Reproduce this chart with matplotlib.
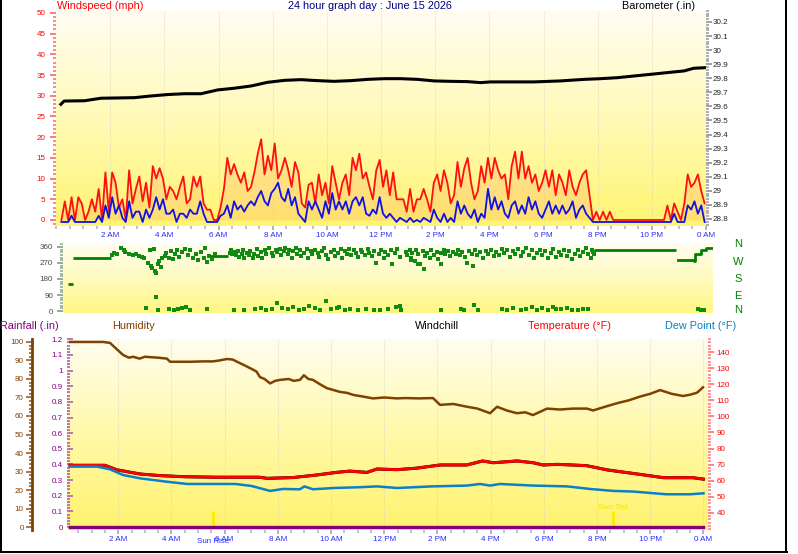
import numpy as np
import matplotlib.pyplot as plt
import matplotlib.transforms as mtransforms
from matplotlib.colors import LinearSegmentedColormap
from matplotlib.lines import Line2D
from matplotlib.ticker import MultipleLocator, FuncFormatter

plt.rcParams['font.family'] = ['Liberation Sans', 'DejaVu Sans']

#time axis labels
hour_ticks = [2, 4, 6, 8, 10, 12, 14, 16, 18, 20, 22, 24]
hour_labels = ['2 AM', '4 AM', '6 AM', '8 AM', '10 AM', '12 PM',
               '2 PM', '4 PM', '6 PM', '8 PM', '10 PM', '0 AM']

#wind (mph), one reading every 7.5 min from 00:12
wind_gust = [0, 4.5, 0, 5.5, 0, 5.5, 4, 0, 2, 5,
             2, 7.5, 0, 11.5, 2, 11.5, 9, 3, 5, 0,
             12, 4, 7.5, 10.5, 4.5, 9, 3, 13, 10, 12.5,
             10, 5, 8, 7, 5, 8, 10.5, 4, 5, 10.5,
             8, 10.5, 4, 2.5, 2.5, 0, 0, 3, 7.5, 15,
             11, 13.5, 11, 9, 11.5, 7, 8, 11.5, 16, 19.5,
             11, 15.5, 12, 18.5, 10, 12, 15, 12, 8, 14,
             11.5, 4, 3, 8.5, 9, 4, 11, 6, 9, 4,
             13, 9, 5, 9, 11, 6, 15, 12, 16, 10,
             11.5, 8, 5, 12, 14.5, 8, 12, 6, 11.5, 5,
             5,
             5, 2, 7.5, 2, 5, 5, 7.5, 5, 2, 9,
             11, 7, 12, 9, 4, 6, 14, 8, 12.5, 15,
             9, 5, 7, 13, 9, 15, 10, 15, 12, 10,
             11, 5, 13, 16.5, 10, 16.5, 10, 13, 9, 11,
             7, 9, 12, 8, 12, 6, 11, 9, 6, 12,
             8, 6, 9, 11, 12, 6, 0, 2, 0, 2,
             0, 2, 0,
             0, 0, 0, 0, 0, 0, 0, 0, 0, 0, 0, 0, 0,
             0, 0, 3.5, 0, 4, 2, 0, 4, 11, 8, 9, 11, 7, 4]
wind_speed = [0, 0, 0, 1.5, 0, 0, 0, 0, 0, 0,
              0, 1.5, 0, 4, 1, 6, 2, 4, 1, 0,
              5, 1, 2.5, 2.5, 0, 3, 1, 3, 6, 3,
              5.5, 2, 2, 3, 0, 2, 2, 1, 3, 2,
              2, 5, 2, 0, 0, 0, 0, 1.5, 2, 4,
              1, 5, 3, 4, 2.5, 4, 5, 4, 6, 7.5,
              5, 4, 7, 8, 9.5, 6, 5, 8, 4, 6,
              2, 1, 0, 5, 3, 5, 3, 1, 5, 2,
              7, 3, 5, 3, 5, 2, 5, 6, 4, 6,
              2, 1.5, 3, 2, 6, 2, 1, 2, 1, 0,
              1,
              0.5, 0, 1, 0, 0.5, 0, 1, 0.5, 0, 3,
              1, 0, 2, 0, 1, 0, 5, 2, 4, 2,
              1, 3, 0, 2, 1, 8, 3, 6, 3, 5,
              2, 1, 4, 5, 2, 4, 2, 6, 3, 5,
              2, 1, 3, 5, 2, 4, 2, 4, 2, 3,
              5, 1, 3, 4, 2, 1, 0,
              0, 0, 0, 0, 0, 0, 0, 0, 0, 0, 0, 0, 0, 0, 0, 0, 0, 0, 0, 0, 0, 0, 0,
              2, 0, 0, 0, 4, 3, 5, 2, 4, 0]

#barometer (in)
baro_t = [0.18, 0.3, 1.05, 1.66, 2.89, 3.5, 4.12, 4.73, 5.35, 5.97, 6.58, 7.2, 7.81,
          8.43, 9.04, 9.66, 10.27, 10.89, 11.5, 12.12, 12.73, 13.35, 13.96, 14.57,
          15.19, 15.68, 16.05, 16.42, 17.65, 18.63, 19.5, 20.11, 20.73, 21.34, 21.96,
          22.57, 23.19, 23.55, 23.98]
baro_v = [29.615, 29.638, 29.640, 29.658, 29.662, 29.674, 29.684, 29.690, 29.690, 29.717,
          29.729, 29.745, 29.771, 29.785, 29.790, 29.783, 29.778, 29.783, 29.792, 29.797,
          29.797, 29.792, 29.781, 29.778, 29.776, 29.769, 29.774, 29.774, 29.774, 29.781,
          29.792, 29.797, 29.804, 29.816, 29.828, 29.840, 29.852, 29.871, 29.875]

#wind direction (deg): steady runs and single readings
run_start = [0.17, 0.38, 5.40, 19.62]
run_end = [0.38, 1.77, 6.08, 22.65]
run_deg = [154, 300, 307, 345]
tail_t = [22.70, 23.25, 23.30, 23.35, 23.40, 23.55, 23.75, 24.0]
tail_v = [289, 289, 279, 322, 322, 341, 356, 356]
dir_t = [1.8, 1.9, 2.0, 2.15, 2.25, 2.3, 2.45, 2.6, 2.7, 2.8, 2.9, 3.0,
         3.15, 3.2, 3.25, 3.3, 3.35, 3.4, 3.45, 3.5, 3.55, 3.6, 3.65,
         3.75, 3.8, 3.9, 4.0, 4.05, 4.15, 4.2, 4.3, 4.4, 4.5, 4.6, 4.7, 4.8, 4.9, 5.0,
         5.1, 5.2, 5.25, 5.3, 5.4, 5.5, 5.6,
         3.07, 3.44, 3.5, 3.9, 4.1, 4.25, 4.4, 4.55, 4.7, 5.3, 6.3,
         6.15, 6.2, 6.25, 6.3, 6.4, 6.45, 6.5, 6.6, 6.65, 6.7, 6.8, 6.85, 6.9, 7.0, 7.05,
         7.15, 7.2, 7.3, 7.35, 7.45, 7.5, 7.6, 7.7, 7.75, 7.85, 7.9, 8.0, 8.05, 8.15, 8.2,
         8.3, 8.35, 8.45, 8.5, 8.6, 8.65, 8.75, 8.8, 8.9, 9.0, 9.05, 9.15, 9.2, 9.3, 9.4,
         9.45, 9.55, 9.65, 9.7, 9.8, 9.9, 10.0, 10.05, 10.15, 10.25, 10.3, 10.4, 10.5,
         10.55, 10.65, 10.75, 10.8, 10.9, 11.0, 11.05, 11.15, 11.25, 11.3, 11.4, 11.5,
         11.55, 11.65, 11.75, 11.85, 11.9, 12.0, 12.1, 12.15, 12.25, 12.35, 12.45,
         6.7, 7.1, 7.3, 7.5, 7.7, 7.9, 8.1, 8.3, 8.5, 8.7, 8.9, 9.1, 9.3, 9.5, 9.7, 9.9,
         10.1, 10.2, 10.4, 10.6, 10.9, 11.2, 11.5, 11.7, 12.0, 12.3, 12.45,
         12.65, 12.7, 12.8, 12.85, 12.9, 13.0, 13.05, 13.1, 13.2, 13.3, 13.35, 13.45,
         13.55, 13.6, 13.7, 13.8, 13.85, 13.95, 14.05, 14.1, 14.2, 14.3, 14.4, 14.5,
         14.6, 14.65, 14.75, 14.85, 14.9, 15.0, 15.1, 15.2, 15.3, 15.4, 15.5, 15.6,
         15.7, 15.8, 15.9, 16.0, 16.1, 16.2, 16.3, 16.4, 16.5, 16.6, 16.7, 16.8, 16.9,
         17.0, 17.1, 17.2, 17.3, 17.4, 17.5, 17.6, 17.7, 17.8, 17.9, 18.0, 18.1, 18.2,
         18.3, 18.4, 18.5, 18.6, 18.7, 18.8, 18.9, 19.0, 19.1, 19.2, 19.3, 19.4, 19.5,
         19.55, 19.58, 19.6,
         12.85, 13.1, 13.34, 13.96, 15.13,
         12.48, 13.96, 14.7, 14.82, 15.19, 15.31, 16.2, 16.4, 16.6, 16.9, 17.1, 17.3,
         17.5, 17.7, 17.9, 18.1, 18.2, 18.4, 18.6, 18.8, 19.0, 19.2, 19.4,
         23.45, 23.55, 23.65]
dir_v = [315, 325, 320, 355, 345, 330, 322, 315, 318, 310, 305, 298,
         270, 345, 255, 240, 350, 225, 215, 262, 280, 245, 300,
         310, 325, 300, 335, 290, 320, 345, 305, 330, 350, 315, 340, 295, 320, 285,
         330, 300, 355, 275, 310, 290, 320,
         17, 80, 8, 10, 8, 12, 15, 20, 5, 12, 5,
         325, 340, 318, 330, 312, 335, 305, 322, 345, 300, 328, 315, 338, 295, 320,
         348, 310, 332, 300, 342, 318, 352, 325, 308, 340, 330, 350, 315, 338, 355,
         322, 345, 300, 335, 352, 318, 340, 310, 328, 350, 300, 335, 318, 345, 325,
         305, 338, 352, 315, 290, 332, 345, 310, 328, 348, 300, 335, 320,
         350, 312, 340, 326, 305, 345, 330, 315, 350, 325, 308, 338,
         270, 320, 345, 300, 330, 312, 340, 262, 325, 350, 305,
         5, 10, 18, 8, 12, 45, 15, 10, 20, 8, 12, 30, 15, 5, 58, 10,
         15, 25, 8, 12, 5, 10, 8, 5, 12, 20, 30,
         330, 312, 345, 300, 325, 280, 340, 318, 262, 335, 310, 328,
         300, 342, 315, 330, 290, 325, 340, 318, 335, 308, 330, 322,
         340, 315, 332, 305, 270, 338, 320, 345, 312, 330, 300, 338,
         318, 345, 308, 332, 315, 350, 325, 340, 305, 335, 318, 348, 310,
         330, 352, 315, 340, 300, 328, 345, 312, 335, 298, 325, 348, 305,
         330, 315, 340, 308, 335, 290, 320, 345, 310, 330, 352, 318, 300,
         345, 330, 318,
         285, 266, 238, 266, 251,
         8, 5, 12, 8, 32, 5, 10, 5, 15, 8, 10, 20,
         5, 15, 8, 25, 10, 12, 18, 8, 5, 12, 10,
         12, 8, 5]

#humidity (%)
hum_t = [0.2, 1.43, 1.69, 2.18, 2.4, 2.56, 2.8, 3.0, 3.2, 3.5, 3.83, 3.95, 4.7, 5.2,
         5.56, 5.8, 6.09, 6.3, 6.47, 6.8, 7.07, 7.2, 7.33, 7.5, 7.71, 7.9, 8.08, 8.4,
         8.6, 8.83, 8.98, 9.15, 9.32, 9.6, 9.85, 10.1, 10.34, 10.6, 10.83, 11.2, 11.58,
         12.0, 12.48, 12.8, 13.3, 13.83, 14.1, 14.6, 15.11, 15.5, 15.98, 16.24, 16.6,
         16.99, 17.3, 17.59, 18.12, 18.6, 19.1, 19.62, 19.85, 20.3, 20.75, 21.2, 21.62,
         22.0, 22.37, 22.8, 23.23, 23.5, 23.76, 23.98]
hum_v = [100, 100, 99.5, 93, 91.5, 92, 91, 92, 91.8, 91.5, 91, 89.3, 89.3, 89.5,
         89.5, 90, 90.8, 90.5, 89.3, 87, 85, 84, 81, 80, 77.6, 79, 79.5, 80,
         79, 79.5, 82, 80, 79.5, 77, 75, 74, 73, 72.5, 71.4, 70.5, 69.5,
         70, 69.5, 69.7, 69.5, 69.7, 66, 66.5, 65, 64, 61.5, 65, 63,
         61.5, 62, 60.5, 64, 63.5, 64, 64, 63, 65, 66.9, 68.5, 70.5,
         72, 74, 72, 70.8, 71.5, 72.6, 75.5]

#temperature, windchill, dew point (F)
temp_t = [0.19, 1.5, 1.95, 2.82, 3.57, 4.5, 5.7, 7.3, 7.6, 8.57, 9.47, 10.2, 10.7,
          11.35, 11.73, 12.48, 13.2, 14.1, 15.1, 15.7, 16.1, 17.0, 17.6, 17.97, 18.5,
          19.6, 20.4, 21.6, 22.5, 23.6, 24.0]
temp_v = [69.6, 69.6, 66.8, 64.2, 63.2, 62.5, 62.2, 62.2, 61.5, 62, 63.6, 65.2, 66,
          65.2, 67.3, 66.9, 67.8, 69.8, 69.8, 72.3, 71.2, 72.3, 71.2, 69.8, 70.2,
          69.4, 66.7, 64, 61.9, 61.9, 61]
windchill_v = [69.6, 69.6, 66.8, 64.2, 63.2, 62.5, 62.2, 62.2, 61.5, 62, 63.6, 65.2, 66,
               65.2, 67.3, 66.9, 67.8, 69.8, 69.8, 72.3, 71.2, 72.3, 71.2, 69.8, 70.2,
               69.4, 66.7, 64, 61.9, 61.9, 61]
dew_t = [0.19, 1.2, 1.69, 2.18, 2.82, 3.83, 4.6, 6.4, 7.0, 7.71, 8.2, 8.83, 9.0, 9.32,
         10.1, 11.1, 11.73, 12.48, 13.8, 15.11, 15.6, 15.98, 16.35, 17.6, 18.87, 19.74,
         20.6, 21.35, 22.6, 23.5, 24.0]
dew_v = [68.8, 68.8, 67.1, 63.6, 61.5, 59.4, 58, 58, 56.8, 53.7, 54.9, 54.7, 56.5, 54.7,
         55.5, 56, 56.5, 55.5, 56.5, 57, 58, 57, 58, 57, 56.5, 54.9,
         53.7, 53.3, 51.6, 51.6, 52.2]

#rain (in) and sun times
rain_t = [0.2, 24.0]
rain_v = [0, 0]
sunrise = 5.56
sunset = 20.6

#layout helpers (pixels)
W, H = 798, 554
fig = plt.figure(figsize=(W/100, H/100), dpi=100)
fig.patch.set_facecolor('white')

def rect(x0, y0, x1, y1):
    return [x0/W, 1 - y1/H, (x1-x0)/W, (y1-y0)/H]

def backdrop(r, colors):
    bg = fig.add_axes(r, zorder=0)
    cmap = LinearSegmentedColormap.from_list('bg', colors)
    bg.imshow(np.linspace(0, 1, 256).reshape(-1, 1), cmap=cmap, origin='lower',
              extent=[0, 1, 0, 1], aspect='auto')
    bg.axis('off')

def bare(ax):
    for s in ax.spines.values():
        s.set_visible(False)
    ax.patch.set_visible(False)

fs_tick = 5.8
xcol = '#2a2aff'

def time_axis(ax, xlim):
    ax.set_xlim(*xlim)
    ax.set_xticks(hour_ticks)
    ax.set_xticklabels(hour_labels)
    ax.xaxis.set_minor_locator(MultipleLocator(0.5))
    ax.tick_params(axis='x', which='major', length=3, width=1.2, color='#a8a8a8',
                   labelcolor=xcol, labelsize=fs_tick, pad=1.5)
    ax.tick_params(axis='x', which='minor', length=2, width=1.2, color='#b8b8b8')
    ax.grid(axis='x', which='major', color='#d0d0c0', lw=0.6, ls=':')

fmt = FuncFormatter(lambda v, p: '%g' % round(v, 2))

#top panel: wind + barometer
r_top = rect(56, 10, 706, 226)
backdrop(r_top, ['#fff570', '#fffab8', '#fffdf2'])
ax_w = fig.add_axes(r_top, zorder=1)
bare(ax_w)
wind_t = 0.2 + 0.125*np.arange(len(wind_gust))
speed_t = 0.2 + 0.125*np.arange(len(wind_speed))
ax_w.fill_between(wind_t, wind_gust, color='#ff4040', alpha=0.12, lw=0)
ax_w.plot(wind_t, wind_gust, color='#ff1010', lw=1.3)
shift = ax_w.transData + mtransforms.ScaledTranslation(0, -2/100, fig.dpi_scale_trans)
ax_w.plot(speed_t, wind_speed, color='#1010e8', lw=1.3, transform=shift)
ax_w.set_ylim(-1.45, 50.7)
ax_w.set_yticks(range(0, 51, 5))
ax_w.yaxis.set_minor_locator(MultipleLocator(1))
ax_w.tick_params(axis='y', which='major', length=4, width=1.3, color='#ff7070',
                 labelcolor='#ff0000', labelsize=fs_tick, pad=3.5)
ax_w.tick_params(axis='y', which='minor', length=2, width=1.3, color='#ff8080')
time_axis(ax_w, (0, 24.0))

ax_b = ax_w.twinx()
bare(ax_b)
ax_b.plot(baro_t, baro_v, color='black', lw=2.2)
ax_b.set_ylim(28.75, 30.285)
ax_b.set_yticks(np.arange(28.8, 30.25, 0.1))
ax_b.yaxis.set_major_formatter(fmt)
ax_b.yaxis.set_minor_locator(MultipleLocator(0.02))
ax_b.tick_params(axis='y', which='major', length=4, width=1.2, color='#909090',
                 labelcolor='#202020', labelsize=fs_tick, pad=1)
ax_b.tick_params(axis='y', which='minor', length=2, width=1.2, color='#a0a0a0')

#middle panel: wind direction
r_mid = rect(63, 243, 713, 313)
backdrop(r_mid, ['#fff780', '#fffbc0', '#fffef2'])
ax_d = fig.add_axes(r_mid, zorder=1)
bare(ax_d)
ax_d.hlines(run_deg, run_start, run_end, color='#008000', lw=2)
ax_d.plot(tail_t, tail_v, color='#008000', lw=2, drawstyle='steps-post')
ax_d.plot(dir_t, dir_v, 's', color='#108a10', ms=2.3, mew=0)
ax_d.set_xlim(0, 24)
ax_d.set_ylim(-11, 382)
ax_d.set_xticks([])
ax_d.set_yticks([0, 90, 180, 270, 360])
ax_d.yaxis.set_minor_locator(MultipleLocator(15))
ax_d.tick_params(axis='y', which='major', length=4, width=1.2, color='#80a080',
                 labelcolor='#405040', labelsize=fs_tick, pad=3)
ax_d.tick_params(axis='y', which='minor', length=2, width=1.2, color='#90b090')
for lab, yy in zip(['N', 'W', 'S', 'E', 'N'], [244, 262, 279, 296, 310]):
    fig.text(738/W, 1 - yy/H, lab, color='#008000', fontsize=8, ha='center', va='center')

#bottom panel: rain, humidity, temperature
r_bot = rect(67, 339, 708, 530)
backdrop(r_bot, ['#fff36e', '#fff9a8', '#fffdf0'])
ax_r = fig.add_axes(r_bot, zorder=1)
bare(ax_r)
ax_r.set_ylim(-0.019, 1.202)
ax_r.set_yticks(np.arange(0, 1.25, 0.1))
ax_r.yaxis.set_major_formatter(fmt)
ax_r.yaxis.set_minor_locator(MultipleLocator(0.02))
ax_r.tick_params(axis='y', which='both', direction='in', color='#b060b0', width=1.2,
                 labelcolor='#800080', labelsize=fs_tick, pad=3)
ax_r.tick_params(axis='y', which='major', length=4)
ax_r.tick_params(axis='y', which='minor', length=2.5)
time_axis(ax_r, (0.075, 24.17))
ax_r.vlines([sunrise, sunset], 0, 0.1, color='#f8f000', lw=2, zorder=3)
ax_r.text(sunset, 0.128, 'Sun Set', color='#f0e800', fontsize=6, ha='center', va='center')
ax_r.text(sunrise, -0.058, 'Sun Rise', color=xcol, fontsize=fs_tick, ha='center',
          va='center', transform=ax_r.get_xaxis_transform())

ax_h = ax_r.twinx()
bare(ax_h)
ax_h.plot(hum_t, hum_v, color='#804000', lw=1.8)
ax_h.set_ylim(-1.6, 101.6)
ax_h.yaxis.set_ticks_position('left')
ax_h.spines['left'].set_visible(True)
ax_h.spines['left'].set_position(('outward', 25.2))
ax_h.spines['left'].set_color('#804000')
ax_h.spines['left'].set_linewidth(2)
ax_h.set_yticks(range(0, 101, 10))
ax_h.yaxis.set_minor_locator(MultipleLocator(2))
ax_h.tick_params(axis='y', which='major', length=4, width=1.2, color='#a06030',
                 labelcolor='#804000', labelsize=fs_tick, pad=2)
ax_h.tick_params(axis='y', which='minor', length=2, width=1.2, color='#a06030')

ax_t = ax_r.twinx()
bare(ax_t)
ax_t.plot(rain_t, rain_v, color='#800080', lw=2.4, transform=ax_r.transData)
ax_t.plot(temp_t, windchill_v, color='black', lw=2.2)
ax_t.plot(temp_t, temp_v, color='#ff0000', lw=2.0)
ax_t.plot(dew_t, dew_v, color='#0a80c8', lw=1.8)
ax_t.set_ylim(29.4, 148.1)
ax_t.set_yticks(range(40, 141, 10))
ax_t.yaxis.set_minor_locator(MultipleLocator(2))
ax_t.tick_params(axis='y', which='major', length=4, width=1.2, color='#ff7070',
                 labelcolor='#ff0000', labelsize=fs_tick, pad=2)
ax_t.tick_params(axis='y', which='minor', length=2, width=1.2, color='#ff8080')

#headers
fst = 7.8
def header(x, y, s, c, ha='left'):
    fig.text(x/W, 1 - y/H, s, color=c, fontsize=fst, ha=ha, va='center')

header(57, 6, 'Windspeed (mph)', '#ff0000')
header(370, 6, '24 hour graph day : June 15 2026', '#000080', 'center')
header(695, 6, 'Barometer (.in)', 'black', 'right')
header(0, 326, 'Rainfall (.in)', '#800080')
header(112, 326, 'Humidity', '#804000')
header(415, 326, 'Windchill', 'black')
header(528, 326, 'Temperature (\u00b0F)', '#ff0000')
header(665, 326, 'Dew Point (\u00b0F)', '#0a80c8')

#frame
k = 2*0.72
fig.add_artist(Line2D([0.8/W, 0.8/W], [1 - 552/H, 1], color='black', lw=k))
fig.add_artist(Line2D([785.5/W, 785.5/W], [1 - 552/H, 1], color='black', lw=k))
fig.add_artist(Line2D([0, 786.5/W], [1 - 552/H, 1 - 552/H], color='black', lw=k))

fig.savefig('out.png', dpi=100)
